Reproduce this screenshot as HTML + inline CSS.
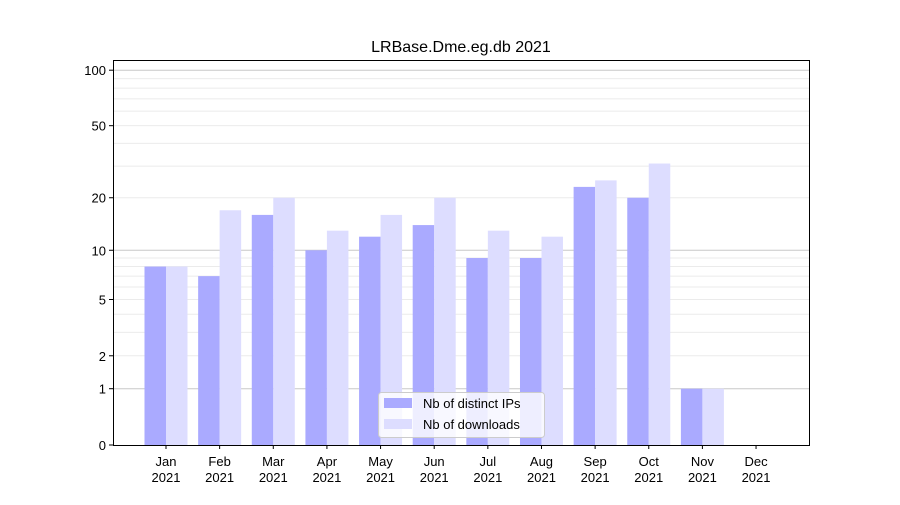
<!DOCTYPE html>
<html><head><meta charset="utf-8"><style>
body{margin:0;background:#fff;font-family:"Liberation Sans","DejaVu Sans",sans-serif;}
</style></head><body>
<svg id="chart" width="900" height="500" xmlns="http://www.w3.org/2000/svg">
<rect width="900" height="500" fill="#fff"/>
<text x="461" y="52" font-size="16" text-anchor="middle">LRBase.Dme.eg.db 2021</text>
<g id="grid"></g><g id="bars"></g><g id="axes"></g>
</svg>
<script>
const months=["Jan","Feb","Mar","Apr","May","Jun","Jul","Aug","Sep","Oct","Nov","Dec"];
const ips=[8,7,16,10,12,14,9,9,23,20,1,0];
const downloads=[8,17,20,13,16,20,13,12,25,31,1,0];
const yTicks=[0,1,2,5,10,20,50,100];
const NS="http://www.w3.org/2000/svg";
const L=113,R=810,T=60,B=445;
function y(v){return B-187*Math.log10(1+v);}
function xc(i){return 166+i*53.64;}
function mk(tag,attrs,parent,txt){const e=document.createElementNS(NS,tag);for(const k in attrs)e.setAttribute(k,attrs[k]);if(txt!==undefined)e.textContent=txt;parent.appendChild(e);return e;}
const grid=document.getElementById('grid'),bars=document.getElementById('bars'),axes=document.getElementById('axes');
// minor grid
[2,3,4,5,6,7,8,9,20,30,40,50,60,70,80,90].forEach(v=>{const l=mk('line',{x1:L,x2:R,y1:y(v),y2:y(v),stroke:'#ebebeb','stroke-width':1},grid);

});
[1,10,100].forEach(v=>{const l=mk('line',{x1:L,x2:R,y1:y(v),y2:y(v),stroke:'#c8c8c8','stroke-width':1},grid);

});
const bw=21.5;
months.forEach((m,i)=>{
 const a=mk('rect',{x:xc(i)-bw,y:y(ips[i]),width:bw,height:B-y(ips[i]),fill:'#aaaaff'},bars);
 
 
 const b=mk('rect',{x:xc(i),y:y(downloads[i]),width:bw,height:B-y(downloads[i]),fill:'#ddddff'},bars);
 
 
 mk('line',{x1:xc(i),x2:xc(i),y1:B,y2:B+4,stroke:'#000'},axes);
 const t=mk('text',{x:xc(i),y:B+21,'font-size':13,'text-anchor':'middle'},axes,m);
 
 
 const t2=mk('text',{x:xc(i),y:B+37,'font-size':13,'text-anchor':'middle'},axes,'2021');
 
 
});
yTicks.forEach(v=>{
 mk('line',{x1:L-4,x2:L,y1:y(v),y2:y(v),stroke:'#000'},axes);
 const t=mk('text',{x:L-7,y:y(v)+5,'font-size':13,'text-anchor':'end'},axes,String(v));
 
 
});
const fr=mk('rect',{x:L+0.5,y:T+0.5,width:R-L-1,height:B-T,fill:'none',stroke:'#000','stroke-width':1},axes);


// legend
const lg=mk('g',{},axes);


mk('rect',{x:378.5,y:392.5,width:166,height:45,rx:3,fill:'#fff','fill-opacity':0.8,stroke:'#ccc'},lg);
mk('rect',{x:384,y:398,width:28,height:10,fill:'#aaaaff'},lg);
mk('text',{x:423,y:408,'font-size':13},lg,'Nb of distinct IPs');
mk('rect',{x:384,y:419,width:28,height:10,fill:'#ddddff'},lg);
mk('text',{x:423,y:429,'font-size':13},lg,'Nb of downloads');
</script>
</body></html>
